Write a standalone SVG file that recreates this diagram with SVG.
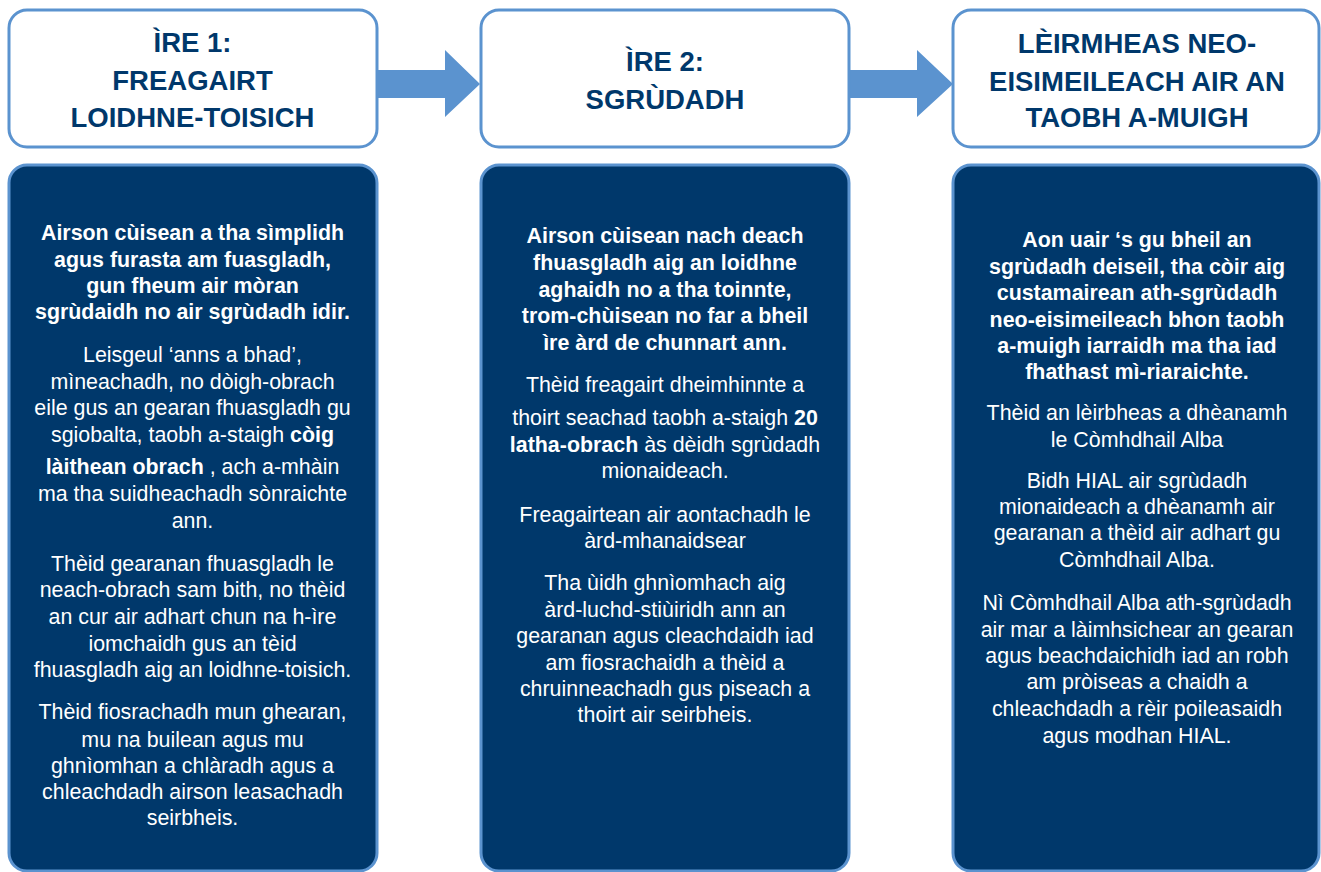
<svg xmlns="http://www.w3.org/2000/svg" width="1321" height="872" viewBox="0 0 1321 872">
<style>
.hdr{fill:#fff;stroke:#5b93cf;stroke-width:3}
.body{fill:#00386b;stroke:#5b93cf;stroke-width:3}
.ht{font-family:"Liberation Sans",Arial,sans-serif;font-weight:bold;font-size:27.5px;fill:#00386b;text-anchor:middle}
.bt{font-family:"Liberation Sans",Arial,sans-serif;font-size:21.4px;fill:#fff;text-anchor:middle}
.b{font-weight:bold}
.arr{fill:#5b93cf}
</style>
<rect width="1321" height="872" fill="#fff"/>
<g id="connectors">
<polygon class="arr" points="377,70 445,70 445,50 480,84 445,117 445,98 377,98"/>
<polygon class="arr" points="850,70 917,70 917,50 953,84 917,117 917,98 850,98"/>
</g>
<g id="header1">
<rect class="hdr" x="9" y="10" width="368" height="137" rx="18"/>
<text class="ht" x="192.5" y="52">ÌRE 1:</text>
<text class="ht" x="192.5" y="90">FREAGAIRT</text>
<text class="ht" x="192.5" y="127">LOIDHNE-TOISICH</text>
</g>
<g id="header2">
<rect class="hdr" x="481" y="10" width="368" height="137" rx="18"/>
<text class="ht" x="665" y="71">ÌRE 2:</text>
<text class="ht" x="665" y="109">SGRÙDADH</text>
</g>
<g id="header3">
<rect class="hdr" x="953" y="10" width="366" height="137" rx="18"/>
<text class="ht" x="1137" y="53">LÈIRMHEAS NEO-</text>
<text class="ht" x="1137" y="91">EISIMEILEACH AIR AN</text>
<text class="ht" x="1137" y="127">TAOBH A-MUIGH</text>
</g>
<g id="body1">
<rect class="body" x="9" y="165" width="368" height="706" rx="18"/>
<text class="bt b" x="192.5" y="240">Airson cùisean a tha sìmplidh</text>
<text class="bt b" x="192.5" y="267">agus furasta am fuasgladh,</text>
<text class="bt b" x="192.5" y="293">gun fheum air mòran</text>
<text class="bt b" x="192.5" y="319">sgrùdaidh no air sgrùdadh idir.</text>
<text class="bt" x="192.5" y="362">Leisgeul ‘anns a bhad’,</text>
<text class="bt" x="192.5" y="388.5">mìneachadh, no dòigh-obrach</text>
<text class="bt" x="192.5" y="415">eile gus an gearan fhuasgladh gu</text>
<text class="bt" x="192.5" y="441.5">sgiobalta, taobh a-staigh <tspan class="b">còig</tspan></text>
<text class="bt" x="192.5" y="474"><tspan class="b">làithean obrach</tspan> , ach a-mhàin</text>
<text class="bt" x="192.5" y="501">ma tha suidheachadh sònraichte</text>
<text class="bt" x="192.5" y="527.5">ann.</text>
<text class="bt" x="192.5" y="571">Thèid gearanan fhuasgladh le</text>
<text class="bt" x="192.5" y="597">neach-obrach sam bith, no thèid</text>
<text class="bt" x="192.5" y="624">an cur air adhart chun na h-ìre</text>
<text class="bt" x="192.5" y="651">iomchaidh gus an tèid</text>
<text class="bt" x="192.5" y="677">fhuasgladh aig an loidhne-toisich.</text>
<text class="bt" x="192.5" y="719">Thèid fiosrachadh mun ghearan,</text>
<text class="bt" x="192.5" y="747">mu na builean agus mu</text>
<text class="bt" x="192.5" y="773">ghnìomhan a chlàradh agus a</text>
<text class="bt" x="192.5" y="799">chleachdadh airson leasachadh</text>
<text class="bt" x="192.5" y="825">seirbheis.</text>
</g>
<g id="body2">
<rect class="body" x="481" y="165" width="368" height="706" rx="18"/>
<text class="bt b" x="665" y="243">Airson cùisean nach deach</text>
<text class="bt b" x="665" y="270">fhuasgladh aig an loidhne</text>
<text class="bt b" x="665" y="297">aghaidh no a tha toinnte,</text>
<text class="bt b" x="665" y="323">trom-chùisean no far a bheil</text>
<text class="bt b" x="665" y="350">ìre àrd de chunnart ann.</text>
<text class="bt" x="665" y="392">Thèid freagairt dheimhinnte a</text>
<text class="bt" x="665" y="425">thoirt seachad taobh a-staigh <tspan class="b">20</tspan></text>
<text class="bt" x="665" y="452"><tspan class="b">latha-obrach</tspan> às dèidh sgrùdadh</text>
<text class="bt" x="665" y="478">mionaideach.</text>
<text class="bt" x="665" y="522">Freagairtean air aontachadh le</text>
<text class="bt" x="665" y="548">àrd-mhanaidsear</text>
<text class="bt" x="665" y="590">Tha ùidh ghnìomhach aig</text>
<text class="bt" x="665" y="617">àrd-luchd-stiùiridh ann an</text>
<text class="bt" x="665" y="643">gearanan agus cleachdaidh iad</text>
<text class="bt" x="665" y="670">am fiosrachaidh a thèid a</text>
<text class="bt" x="665" y="696">chruinneachadh gus piseach a</text>
<text class="bt" x="665" y="722">thoirt air seirbheis.</text>
</g>
<g id="body3">
<rect class="body" x="953" y="165" width="366" height="706" rx="18"/>
<text class="bt b" x="1137" y="247">Aon uair ‘s gu bheil an</text>
<text class="bt b" x="1137" y="274">sgrùdadh deiseil, tha còir aig</text>
<text class="bt b" x="1137" y="300">custamairean ath-sgrùdadh</text>
<text class="bt b" x="1137" y="327">neo-eisimeileach bhon taobh</text>
<text class="bt b" x="1137" y="353">a-muigh iarraidh ma tha iad</text>
<text class="bt b" x="1137" y="379">fhathast mì-riaraichte.</text>
<text class="bt" x="1137" y="420">Thèid an lèirbheas a dhèanamh</text>
<text class="bt" x="1137" y="447">le Còmhdhail Alba</text>
<text class="bt" x="1137" y="488">Bidh HIAL air sgrùdadh</text>
<text class="bt" x="1137" y="514">mionaideach a dhèanamh air</text>
<text class="bt" x="1137" y="540">gearanan a thèid air adhart gu</text>
<text class="bt" x="1137" y="567">Còmhdhail Alba.</text>
<text class="bt" x="1137" y="610">Nì Còmhdhail Alba ath-sgrùdadh</text>
<text class="bt" x="1137" y="637">air mar a làimhsichear an gearan</text>
<text class="bt" x="1137" y="663">agus beachdaichidh iad an robh</text>
<text class="bt" x="1137" y="689">am pròiseas a chaidh a</text>
<text class="bt" x="1137" y="716">chleachdadh a rèir poileasaidh</text>
<text class="bt" x="1137" y="743">agus modhan HIAL.</text>
</g>
</svg>
